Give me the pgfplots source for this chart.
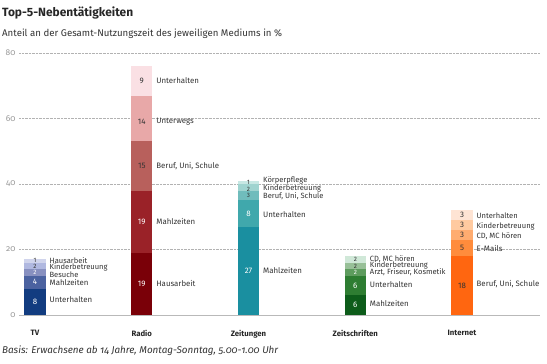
\documentclass[border=0pt]{standalone}
\usepackage{pgfplots}
\pgfplotsset{compat=1.18}
\usepackage{fontspec}
\setmainfont{Fira Sans}
\newfontfamily\osf[Numbers=OldStyle]{Fira Sans}
% TV
\definecolor{tvA}{HTML}{123C80}\definecolor{tvB}{HTML}{4B62A0}\definecolor{tvC}{HTML}{8890C0}\definecolor{tvD}{HTML}{B0B8E0}\definecolor{tvE}{HTML}{D0D4EC}
% Radio
\definecolor{raA}{HTML}{7A0008}\definecolor{raB}{HTML}{9A2228}\definecolor{raC}{HTML}{B8605C}\definecolor{raD}{HTML}{E8A8A8}\definecolor{raE}{HTML}{FAE0E4}
% Zeitungen
\definecolor{zgA}{HTML}{1A8FA0}\definecolor{zgB}{HTML}{40A8AC}\definecolor{zgC}{HTML}{70BCBC}\definecolor{zgD}{HTML}{A0D4D0}\definecolor{zgE}{HTML}{C8E8E4}
% Zeitschriften
\definecolor{zsA}{HTML}{0D5C1A}\definecolor{zsB}{HTML}{2E7D32}\definecolor{zsC}{HTML}{5E9C5E}\definecolor{zsD}{HTML}{98C098}\definecolor{zsE}{HTML}{D0E8D8}
% Internet
\definecolor{inA}{HTML}{FF6610}\definecolor{inB}{HTML}{FF8C3C}\definecolor{inC}{HTML}{FFAC70}\definecolor{inD}{HTML}{FFCAA0}\definecolor{inE}{HTML}{FEE4D4}
\definecolor{txt}{HTML}{333333}
\pgfplotsset{myaxis/.style={scale only axis, width=521bp, height=262bp,
  xmin=-0.15, xmax=4.73, ymin=0, ymax=80, at={(19bp,48bp)}, anchor=south west}}
\begin{document}
\begin{tikzpicture}[x=1bp,y=1bp]
\useasboundingbox (0,0) rectangle (547,363);
\node[anchor=base west, inner sep=0, font=\fontsize{12}{13}\selectfont\bfseries, text=black!85] at (2,347) {Top-5-Nebentätigkeiten};
\node[anchor=base west, inner sep=0, font=\fontsize{9.7}{11}\selectfont, text=black!80] at (2,327) {Anteil an der Gesamt-Nutzungszeit des jeweiligen Mediums in \%};
\node[anchor=base west, inner sep=0, font=\fontsize{9.9}{11}\selectfont\itshape\osf, text=black!80] at (2,10) {Basis: Erwachsene ab 14 Jahre, Montag-Sonntag, 5.00-1.00 Uhr};
\begin{axis}[myaxis, ybar stacked, bar width=0.2,
  axis x line*=bottom, axis y line*=left,
  x axis line style={draw=gray!55, line width=0.6pt},
  y axis line style={draw=none},
  tick style={draw=none},
  ymajorgrids, grid style={densely dotted, gray!60},
  ytick={0,20,40,60,80},
  xtick={0,1,2,3,4},
  xticklabels={TV,Radio,Zeitungen,Zeitschriften,Internet},
  xticklabel style={font=\fontsize{7.8}{9}\selectfont\bfseries, text=black!85, yshift=-12bp},
  /pgf/number format/assume math mode=true,
  yticklabel style={font=\fontsize{8.5}{9}\selectfont\osf, text=gray!80},
  every axis plot/.append style={draw=none}]
% TV
\addplot[fill=tvA] coordinates {(0,8)(1,0)(2,0)(3,0)(4,0)};
\addplot[fill=tvB] coordinates {(0,4)(1,0)(2,0)(3,0)(4,0)};
\addplot[fill=tvC] coordinates {(0,2)(1,0)(2,0)(3,0)(4,0)};
\addplot[fill=tvD] coordinates {(0,2)(1,0)(2,0)(3,0)(4,0)};
\addplot[fill=tvE] coordinates {(0,1)(1,0)(2,0)(3,0)(4,0)};
% Radio
\addplot[fill=raA] coordinates {(0,0)(1,19)(2,0)(3,0)(4,0)};
\addplot[fill=raB] coordinates {(0,0)(1,19)(2,0)(3,0)(4,0)};
\addplot[fill=raC] coordinates {(0,0)(1,15)(2,0)(3,0)(4,0)};
\addplot[fill=raD] coordinates {(0,0)(1,14)(2,0)(3,0)(4,0)};
\addplot[fill=raE] coordinates {(0,0)(1,9)(2,0)(3,0)(4,0)};
% Zeitungen
\addplot[fill=zgA] coordinates {(0,0)(1,0)(2,27)(3,0)(4,0)};
\addplot[fill=zgB] coordinates {(0,0)(1,0)(2,8)(3,0)(4,0)};
\addplot[fill=zgC] coordinates {(0,0)(1,0)(2,3)(3,0)(4,0)};
\addplot[fill=zgD] coordinates {(0,0)(1,0)(2,2)(3,0)(4,0)};
\addplot[fill=zgE] coordinates {(0,0)(1,0)(2,1)(3,0)(4,0)};
% Zeitschriften
\addplot[fill=zsA] coordinates {(0,0)(1,0)(2,0)(3,6)(4,0)};
\addplot[fill=zsB] coordinates {(0,0)(1,0)(2,0)(3,6)(4,0)};
\addplot[fill=zsC] coordinates {(0,0)(1,0)(2,0)(3,2)(4,0)};
\addplot[fill=zsD] coordinates {(0,0)(1,0)(2,0)(3,2)(4,0)};
\addplot[fill=zsE] coordinates {(0,0)(1,0)(2,0)(3,2)(4,0)};
% Internet
\addplot[fill=inA] coordinates {(0,0)(1,0)(2,0)(3,0)(4,18)};
\addplot[fill=inB] coordinates {(0,0)(1,0)(2,0)(3,0)(4,5)};
\addplot[fill=inC] coordinates {(0,0)(1,0)(2,0)(3,0)(4,3)};
\addplot[fill=inD] coordinates {(0,0)(1,0)(2,0)(3,0)(4,3)};
\addplot[fill=inE] coordinates {(0,0)(1,0)(2,0)(3,0)(4,3)};
\end{axis}
\begin{axis}[myaxis, hide axis]
% values, light text
\addplot[draw=none, mark=none, nodes near coords, point meta=explicit symbolic,
  every node near coord/.append style={anchor=center, inner sep=0, font=\fontsize{8}{8}\selectfont, text=white}]
  table[col sep=semicolon, row sep=\\, meta=t] {
x;y;t\\
0;4;8\\
0;10;4\\
1;9.5;19\\
1;28.5;19\\
2;13.5;27\\
2;31;8\\
3;3;6\\
3;9;6\\
};
% small values, light text
\addplot[draw=none, mark=none, nodes near coords, point meta=explicit symbolic,
  every node near coord/.append style={anchor=center, inner sep=0, font=\fontsize{6.3}{6.5}\selectfont, text=white}]
  table[col sep=semicolon, row sep=\\, meta=t] {
x;y;t\\
0;13;2\\
3;13;2\\
};
% values, dark text
\addplot[draw=none, mark=none, nodes near coords, point meta=explicit symbolic,
  every node near coord/.append style={anchor=center, inner sep=0, font=\fontsize{8}{8}\selectfont, text=txt}]
  table[col sep=semicolon, row sep=\\, meta=t] {
x;y;t\\
1;45.5;15\\
1;59;14\\
1;71.5;9\\
4;9;18\\
4;20.5;5\\
4;24.5;3\\
4;27.5;3\\
4;30.5;3\\
};
% small values, dark text
\addplot[draw=none, mark=none, nodes near coords, point meta=explicit symbolic,
  every node near coord/.append style={anchor=center, inner sep=0, font=\fontsize{6.3}{6.5}\selectfont, text=txt}]
  table[col sep=semicolon, row sep=\\, meta=t] {
x;y;t\\
0;15;2\\
0;16.6;1\\
2;36.5;3\\
2;38.5;2\\
2;40.5;1\\
3;15;2\\
3;17;2\\
};
% activity names
\addplot[draw=none, mark=none, nodes near coords, point meta=explicit symbolic,
  every node near coord/.append style={anchor=west, inner sep=0, font=\fontsize{7.9}{8}\selectfont, text=txt}]
  table[col sep=semicolon, row sep=\\, meta=t] {
x;y;t\\
0.135;4.6;Unterhalten\\
0.135;9.8;Mahlzeiten\\
1.135;9.5;Hausarbeit\\
1.135;28.5;Mahlzeiten\\
1.135;45.5;Beruf, Uni, Schule\\
1.135;59;Unterwegs\\
1.135;71.5;Unterhalten\\
2.135;13.7;Mahlzeiten\\
2.135;30.7;Unterhalten\\
3.135;3.4;Mahlzeiten\\
3.135;9.2;Unterhalten\\
4.135;9.5;Beruf, Uni, Schule\\
4.135;20.2;E-Mails\\
};
% activity names, tightly stacked
\addplot[draw=none, mark=none, nodes near coords, point meta=explicit symbolic,
  every node near coord/.append style={anchor=west, inner sep=0, font=\fontsize{7.6}{8}\selectfont, text=txt}]
  table[col sep=semicolon, row sep=\\, meta=t] {
x;y;t\\
0.135;12.3;Besuche\\
0.135;14.5;Kinderbetreuung\\
0.135;16.6;Hausarbeit\\
2.135;36.3;Beruf, Uni, Schule\\
2.135;38.7;Kinderbetreuung\\
2.135;41;Körperpflege\\
3.135;13.1;Arzt, Friseur, Kosmetik\\
3.135;15.1;Kinderbetreuung\\
3.135;17.1;CD, MC hören\\
4.135;24.1;CD, MC hören\\
4.135;27.2;Kinderbetreuung\\
4.135;30.2;Unterhalten\\
};
\end{axis}
\end{tikzpicture}
\end{document}
